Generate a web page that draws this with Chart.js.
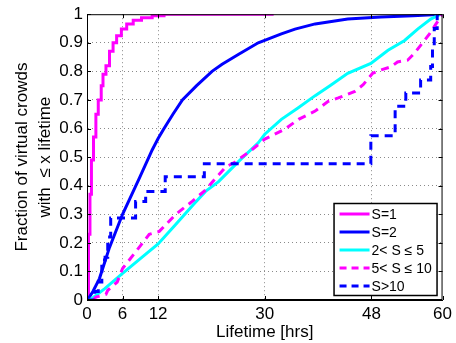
<!DOCTYPE html>
<html>
<head>
<meta charset="utf-8">
<script src="https://cdn.jsdelivr.net/npm/chart.js@4.4.0/dist/chart.umd.min.js"></script>
<style>
  html, body { margin: 0; padding: 0; background: #fff; }
  #wrap { width: 456px; height: 343px; }
</style>
</head>
<body>
<div id="wrap"><canvas id="chart" width="456" height="343"></canvas></div>
<script>
  // Tick positions on the lifetime axis (hours).
  const X_TICKS = [0, 6, 12, 30, 48, 60];

  const SERIES_LABELS = ['S=1', 'S=2', '2< S \u2264 5', '5< S \u2264 10', 'S>10'];

  // S=1 — steep staircase near zero.
  const s1Hours = [0, 0.25, 0.5, 0.75, 1.1, 1.5, 1.9, 2.4, 2.7, 3.2, 3.8, 4.4, 5.0, 5.8, 6.7, 7.8, 9.2, 11, 13, 31.5];
  const s1Frac  = [0, 0.23, 0.37, 0.49, 0.57, 0.65, 0.70, 0.75, 0.79, 0.82, 0.87, 0.90, 0.925, 0.948, 0.966, 0.979, 0.988, 0.995, 1, 1];

  // S=2
  const s2Hours = [0.1, 1, 2.1, 3.8, 6, 8.8, 11, 12, 13, 14.5, 16.1, 18.5, 21.1, 22.8, 25.6, 28.9, 32.8, 35.1, 38.5, 44, 49.6, 55, 60];
  const s2Frac  = [0, 0.03, 0.075, 0.184, 0.30, 0.425, 0.525, 0.565, 0.60, 0.65, 0.70, 0.75, 0.80, 0.825, 0.86, 0.90, 0.931, 0.948, 0.966, 0.983, 0.99, 0.995, 1];

  // 2 < S <= 5
  const s5Hours = [0.5, 3, 6, 9, 12, 15, 18, 20, 22.2, 25.6, 28.9, 30, 32.8, 35.6, 38.5, 41, 44, 47.9, 50.8, 53.6, 55.8, 58, 59.7, 60];
  const s5Frac  = [0, 0.04, 0.093, 0.145, 0.196, 0.265, 0.335, 0.38, 0.414, 0.485, 0.55, 0.58, 0.632, 0.672, 0.715, 0.75, 0.793, 0.828, 0.874, 0.908, 0.948, 0.983, 1, 1];

  // 5 < S <= 10
  const s10Hours = [1, 1.5, 3.2, 3.5, 5.1, 6, 8.8, 10.5, 12.2, 15, 17.75, 20, 21.65, 23.4, 25, 27.8, 30, 33.4, 35.7, 38.5, 40.7, 42.4, 45.2, 46.6, 48.2, 49.6, 51.3, 52.4, 54.1, 55.2, 56.3, 57.8, 58.9, 59.7, 60];
  const s10Frac  = [0, 0.01, 0.02, 0.034, 0.063, 0.11, 0.184, 0.23, 0.24, 0.30, 0.345, 0.385, 0.425, 0.465, 0.483, 0.525, 0.563, 0.598, 0.632, 0.661, 0.695, 0.707, 0.73, 0.753, 0.793, 0.805, 0.816, 0.833, 0.839, 0.862, 0.891, 0.931, 0.966, 0.99, 1];

  // S > 10 — few crowds, coarse staircase.
  const sBigHours = [0, 1.3, 1.9, 2.5, 3.05, 3.5, 4.0, 8.2, 9.9, 13.2, 19.8, 47.9, 52, 53.8, 56.3, 58, 58.3, 58.6, 59.1, 60];
  const sBigFrac  = [0, 0.03, 0.063, 0.14, 0.15, 0.22, 0.287, 0.345, 0.38, 0.431, 0.477, 0.575, 0.678, 0.724, 0.77, 0.817, 0.89, 0.95, 1, 1];

  const FONT = "'Liberation Sans', Arial, Helvetica, sans-serif";
  const MAGENTA = '#ff00ff';
  const BLUE = '#0000ff';
  const CYAN = '#00ffff';
  const GRID = '#8a8a8a';

  function points(xs, ys) {
    return xs.map((x, i) => ({ x: x, y: ys[i] }));
  }

  const seriesStyle = [
    { data: points(s1Hours, s1Frac), color: MAGENTA, dash: [], stepped: true },
    { data: points(s2Hours, s2Frac), color: BLUE, dash: [], stepped: false },
    { data: points(s5Hours, s5Frac), color: CYAN, dash: [], stepped: false },
    { data: points(s10Hours, s10Frac), color: MAGENTA, dash: [8, 6], stepped: false },
    { data: points(sBigHours, sBigFrac), color: BLUE, dash: [8, 6], stepped: true },
  ];

  // Matlab-style frame: closed box, inward tick marks, legend inside the axes.
  const framePlugin = {
    id: 'frame',
    afterDraw(chart) {
      const { ctx, chartArea: a, scales } = chart;
      ctx.save();
      ctx.strokeStyle = '#000';
      ctx.lineWidth = 1;
      ctx.strokeRect(a.left + 0.5, a.top + 0.5, a.right - a.left - 1, a.bottom - a.top - 1);

      ctx.beginPath();
      scales.x.ticks.forEach((t) => {
        const px = Math.round(scales.x.getPixelForValue(t.value)) + 0.5;
        ctx.moveTo(px, a.bottom); ctx.lineTo(px, a.bottom - 4);
        ctx.moveTo(px, a.top); ctx.lineTo(px, a.top + 4);
      });
      scales.y.ticks.forEach((t) => {
        const py = Math.round(scales.y.getPixelForValue(t.value)) + 0.5;
        ctx.moveTo(a.left, py); ctx.lineTo(a.left + 4, py);
        ctx.moveTo(a.right, py); ctx.lineTo(a.right - 4, py);
      });
      ctx.stroke();

      // legend box, lower right
      const bw = 103, bh = 92;
      const bx = a.right - bw - 6, by = a.bottom - bh - 5;
      ctx.fillStyle = '#fff';
      ctx.fillRect(bx, by, bw, bh);
      ctx.lineWidth = 1.5;
      ctx.strokeRect(bx + 0.5, by + 0.5, bw, bh);
      ctx.font = '14px ' + FONT;
      ctx.textBaseline = 'middle';
      ctx.textAlign = 'left';
      chart.data.datasets.forEach((ds, i) => {
        const y = by + 11 + i * 18;
        ctx.beginPath();
        ctx.strokeStyle = ds.borderColor;
        ctx.lineWidth = 3;
        ctx.setLineDash(ds.borderDash.length ? [7, 5] : []);
        ctx.moveTo(bx + 6, y);
        ctx.lineTo(bx + 36, y);
        ctx.stroke();
        ctx.setLineDash([]);
        ctx.fillStyle = '#000';
        ctx.fillText(ds.label, bx + 38, y + 1);
      });
      ctx.restore();
    },
  };

  function edgeGrid(lo, hi) {
    return (c) => (c.tick && (c.tick.value === lo || c.tick.value === hi)) ? 'rgba(0,0,0,0)' : GRID;
  }

  new Chart(document.getElementById('chart'), {
    type: 'line',
    data: {
      datasets: seriesStyle.map((s, i) => ({
        label: SERIES_LABELS[i],
        data: s.data,
        borderColor: s.color,
        backgroundColor: s.color,
        borderWidth: 3,
        borderDash: s.dash,
        stepped: s.stepped,
        pointRadius: 0,
        tension: 0,
        fill: false,
        order: seriesStyle.length - i,
      })),
    },
    options: {
      responsive: false,
      animation: false,
      events: [],
      layout: { padding: { left: 0, top: 10, right: 11, bottom: 0 } },
      plugins: {
        legend: { display: false },
        tooltip: { enabled: false },
      },
      scales: {
        x: {
          type: 'linear',
          min: 0,
          max: 60,
          afterBuildTicks: (scale) => { scale.ticks = X_TICKS.map((v) => ({ value: v })); },
          afterFit: (scale) => { scale.height = 43; },
          grid: { color: edgeGrid(0, 60), drawTicks: false, lineWidth: 1 },
          border: { display: true, color: '#000', width: 1, dash: [1, 3] },
          ticks: {
            color: '#000',
            padding: 4,
            maxRotation: 0,
            autoSkip: false,
            font: { family: FONT, size: 17 },
          },
          title: {
            display: true,
            text: 'Lifetime [hrs]',
            color: '#000',
            font: { family: FONT, size: 17, lineHeight: 1.2 },
            padding: { top: 0, bottom: 0 },
          },
        },
        y: {
          min: 0,
          max: 1,
          afterFit: (scale) => { scale.width = 87; },
          grid: { color: edgeGrid(0, 1), drawTicks: false, lineWidth: 1 },
          border: { display: true, color: '#000', width: 1, dash: [1, 3] },
          ticks: {
            stepSize: 0.1,
            color: '#000',
            padding: 4,
            font: { family: FONT, size: 17 },
            callback: (v) => (v === 0 || v === 1) ? String(v) : v.toFixed(1),
          },
          title: {
            display: true,
            text: ['Fraction of virtual crowds', 'with  \u2264 x lifetime'],
            color: '#000',
            font: { family: FONT, size: 17, lineHeight: 1.4 },
            padding: { top: 10, bottom: 0 },
          },
        },
      },
    },
    plugins: [framePlugin],
  });
</script>
</body>
</html>
